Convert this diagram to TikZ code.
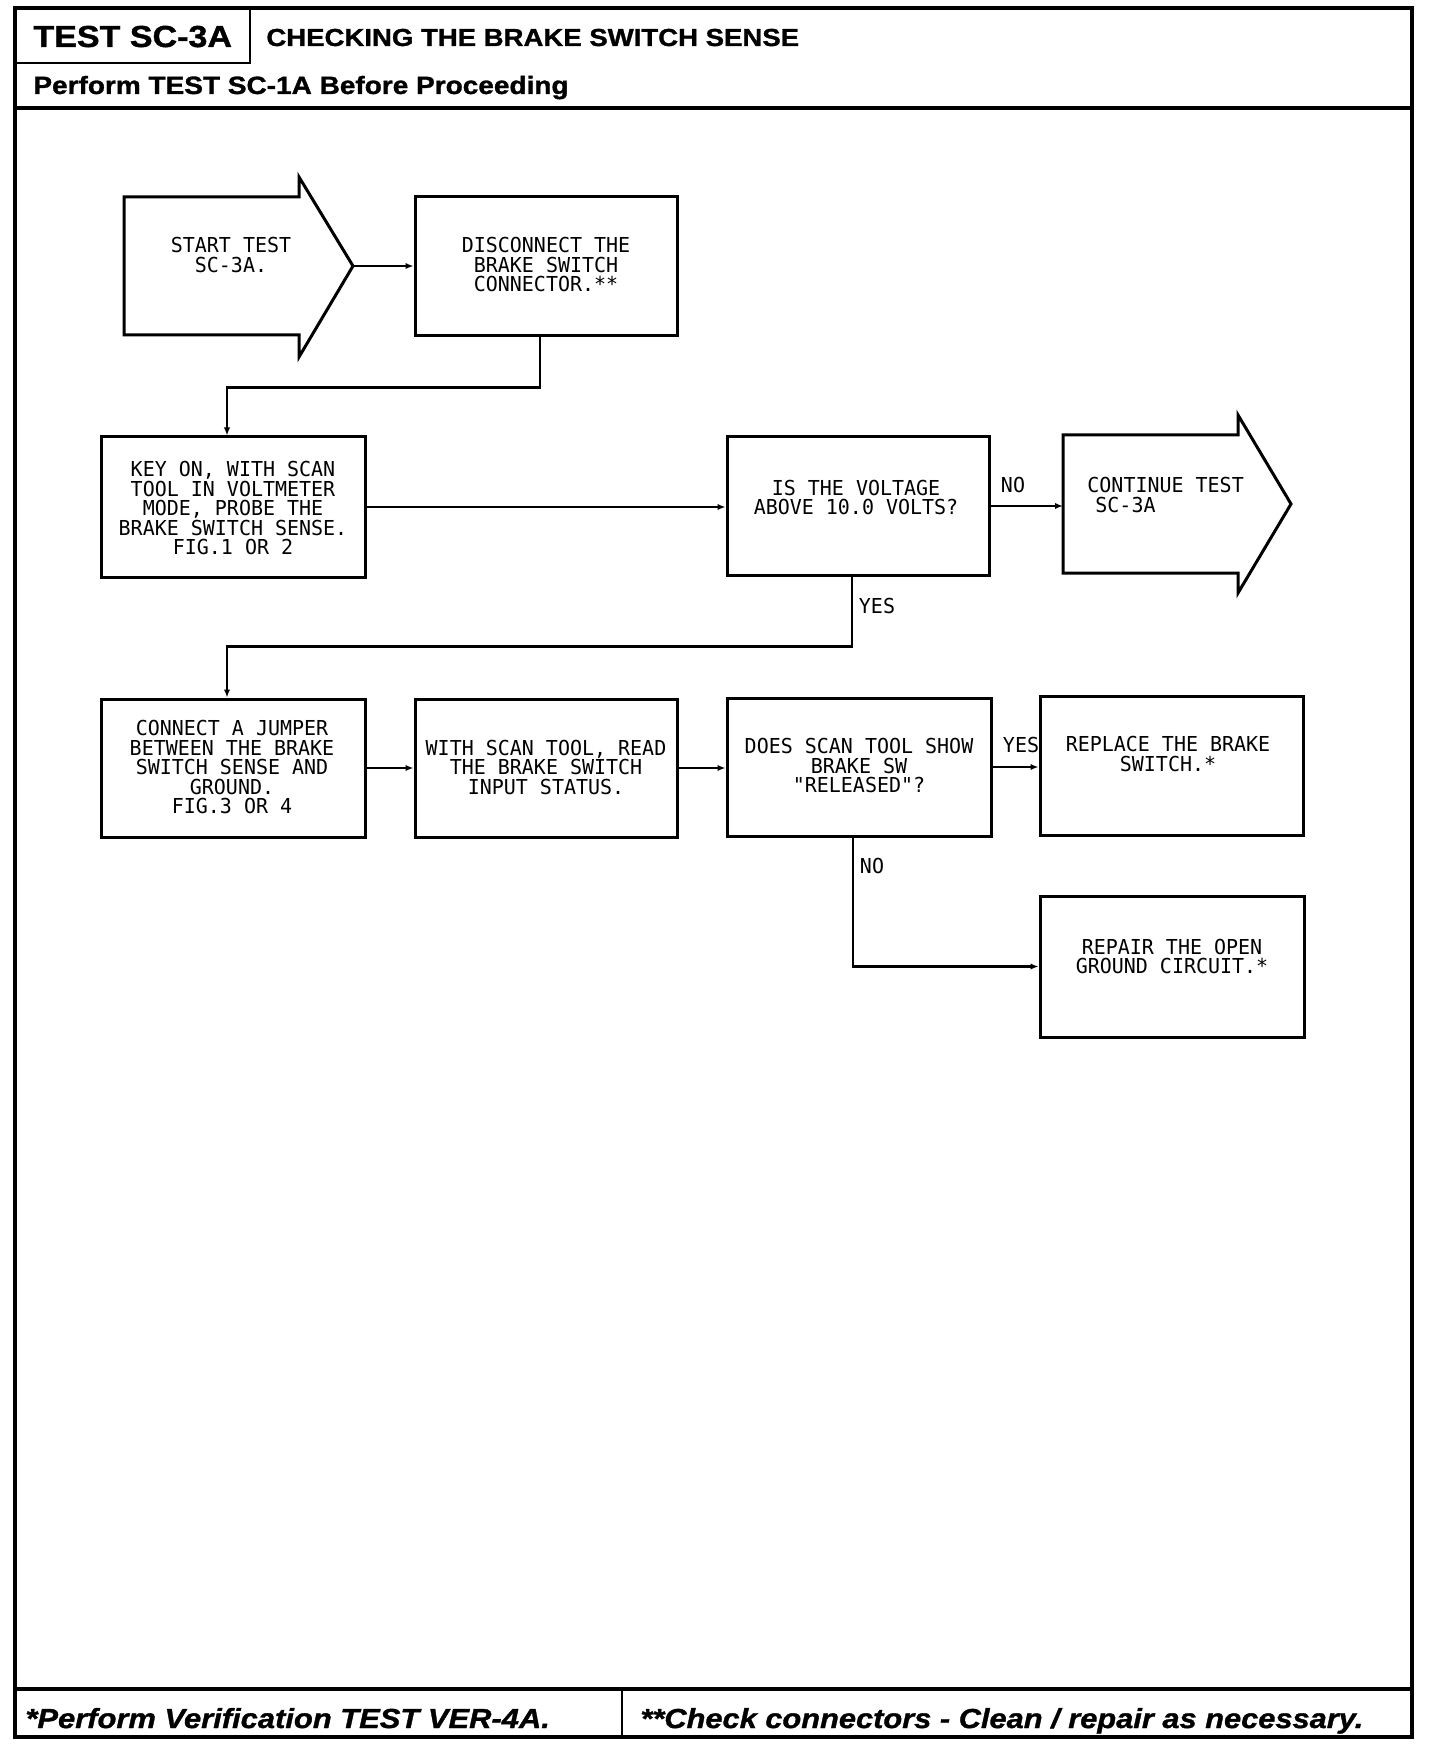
\documentclass[tikz,border=0pt]{standalone}
\usepackage{fontspec}
\newfontfamily\plot[FakeStretch=0.97]{DejaVu Sans Mono}
\newfontfamily\hdr[FakeStretch=1.12,FakeBold=1.2]{Liberation Sans}
\usetikzlibrary{arrows.meta}
\begin{document}
\begin{tikzpicture}[x=0.5pt,y=-0.5pt,
  boxst/.style={draw,line width=1.5pt,inner sep=0pt},
  txt/.style={font={\plot\fontsize{10.3pt}{9.75pt}\selectfont},align=center,inner sep=0pt},
  lbl/.style={font={\plot\fontsize{10.3pt}{9.75pt}\selectfont},inner sep=0pt},
  conn/.style={line width=1.2pt,-{Latex[length=4pt,width=3.2pt]}},
  arrowshape/.style={draw,line width=1.5pt,line join=miter},
  hdrtxt/.style={anchor=base west,inner sep=0pt}]
\useasboundingbox (0,0) rectangle (1440,1748);
% frame and header/footer rules
\draw[line width=2.2pt] (15,8) rectangle (1412,1737);
\draw[line width=1.2pt] (15,63) -- (250,63) -- (250,8);
\draw[line width=2.2pt] (15,108) -- (1412,108);
\draw[line width=1.8pt] (15,1689) -- (1412,1689);
\draw[line width=1.2pt] (622,1689) -- (622,1737);
% header and footer texts
\node[hdrtxt,font={\hdr\bfseries\fontsize{15.2pt}{18pt}\selectfont}] (hid) at (33,47) {TEST SC-3A};
\node[hdrtxt,font={\hdr\bfseries\fontsize{12.3pt}{15pt}\selectfont}] (htitle) at (266,46) {CHECKING THE BRAKE SWITCH SENSE};
\node[hdrtxt,font={\hdr\bfseries\fontsize{12.5pt}{15pt}\selectfont}] (hpre) at (33,94) {Perform TEST SC-1A Before Proceeding};
\node[hdrtxt,font={\hdr\bfseries\itshape\fontsize{13.8pt}{16pt}\selectfont}] (fver) at (25,1728) {*Perform Verification TEST VER-4A.};
\node[hdrtxt,font={\hdr\bfseries\itshape\fontsize{13.75pt}{16pt}\selectfont}] (fchk) at (640,1728) {**Check connectors - Clean / repair as necessary.};
% start arrow
\draw[arrowshape] (124,197) -- (299,197) -- (299,177) -- (353,266) -- (299,357) -- (299,335) -- (124,335) -- cycle;
\coordinate (startTip) at (353,266);
\node[txt] (start) at (231,255) {START TEST\\SC-3A.};
% continue arrow
\draw[arrowshape] (1063,435) -- (1238,435) -- (1238,415) -- (1291,504) -- (1238,593) -- (1238,573) -- (1063,573) -- cycle;
\coordinate (contTail) at (1063,506);
\node[txt,align=left,anchor=west] (cont) at (1087,495) {CONTINUE TEST\\\hspace*{4pt}SC-3A};
% boxes
\node[boxst,minimum width=131pt,minimum height=69.5pt] (disc) at (546,266.5) {};
\node[boxst,minimum width=132pt,minimum height=70pt] (key) at (233,507) {};
\node[boxst,minimum width=131pt,minimum height=69pt] (volt) at (858,506) {};
\node[boxst,minimum width=132pt,minimum height=69pt] (connb) at (233,768) {};
\node[boxst,minimum width=131pt,minimum height=69pt] (read) at (546,768) {};
\node[boxst,minimum width=132pt,minimum height=69pt] (does) at (859,767) {};
\node[boxst,minimum width=131.5pt,minimum height=69.5pt] (repl) at (1171.5,765.5) {};
\node[boxst,minimum width=132pt,minimum height=70.5pt] (repr) at (1172,966.5) {};
% box texts
\node[txt] (tdisc) at (546,265) {DISCONNECT THE\\BRAKE SWITCH\\CONNECTOR.**};
\node[txt] (tkey) at (233,508.5) {KEY ON, WITH SCAN\\TOOL IN VOLTMETER\\MODE, PROBE THE\\BRAKE SWITCH SENSE.\\FIG.1 OR 2};
\node[txt] (tvolt) at (856,497.5) {IS THE VOLTAGE\\ABOVE 10.0 VOLTS?};
\node[txt] (tconn) at (232,767) {CONNECT A JUMPER\\BETWEEN THE BRAKE\\SWITCH SENSE AND\\GROUND.\\FIG.3 OR 4};
\node[txt] (tread) at (546,767) {WITH SCAN TOOL, READ\\THE BRAKE SWITCH\\INPUT STATUS.};
\node[txt] (tdoes) at (859,765.5) {DOES SCAN TOOL SHOW\\BRAKE SW\\"RELEASED"?};
\node[txt] (trepl) at (1168,754) {REPLACE THE BRAKE\\SWITCH.*};
\node[txt] (trepr) at (1172,956.5) {REPAIR THE OPEN\\GROUND CIRCUIT.*};
% connectors
\draw[conn] (startTip) -- (disc.west |- startTip);
\draw[conn] ([xshift=-3pt]disc.south) -- ++(0,50) -| ([xshift=-3pt]key.north);
\draw[conn] (key.east) -- (key.east -| volt.west);
\draw[conn] (volt.east) -- (contTail);
\draw[conn] ([xshift=-3pt]volt.south) -- ++(0,70) -| ([xshift=-3pt]connb.north);
\draw[conn] (connb.east) -- (connb.east -| read.west);
\draw[conn] (read.east) -- (read.east -| does.west);
\draw[conn] (does.east) -- (does.east -| repl.west);
\draw[conn] ([xshift=-3pt]does.south) |- (repr.west);
% labels
\node[lbl] (lno1) at (1013,485) {NO};
\node[lbl] (lyes1) at (877,606) {YES};
\node[lbl] (lyes2) at (1021,745) {YES};
\node[lbl] (lno2) at (872,866) {NO};
\end{tikzpicture}
\end{document}
